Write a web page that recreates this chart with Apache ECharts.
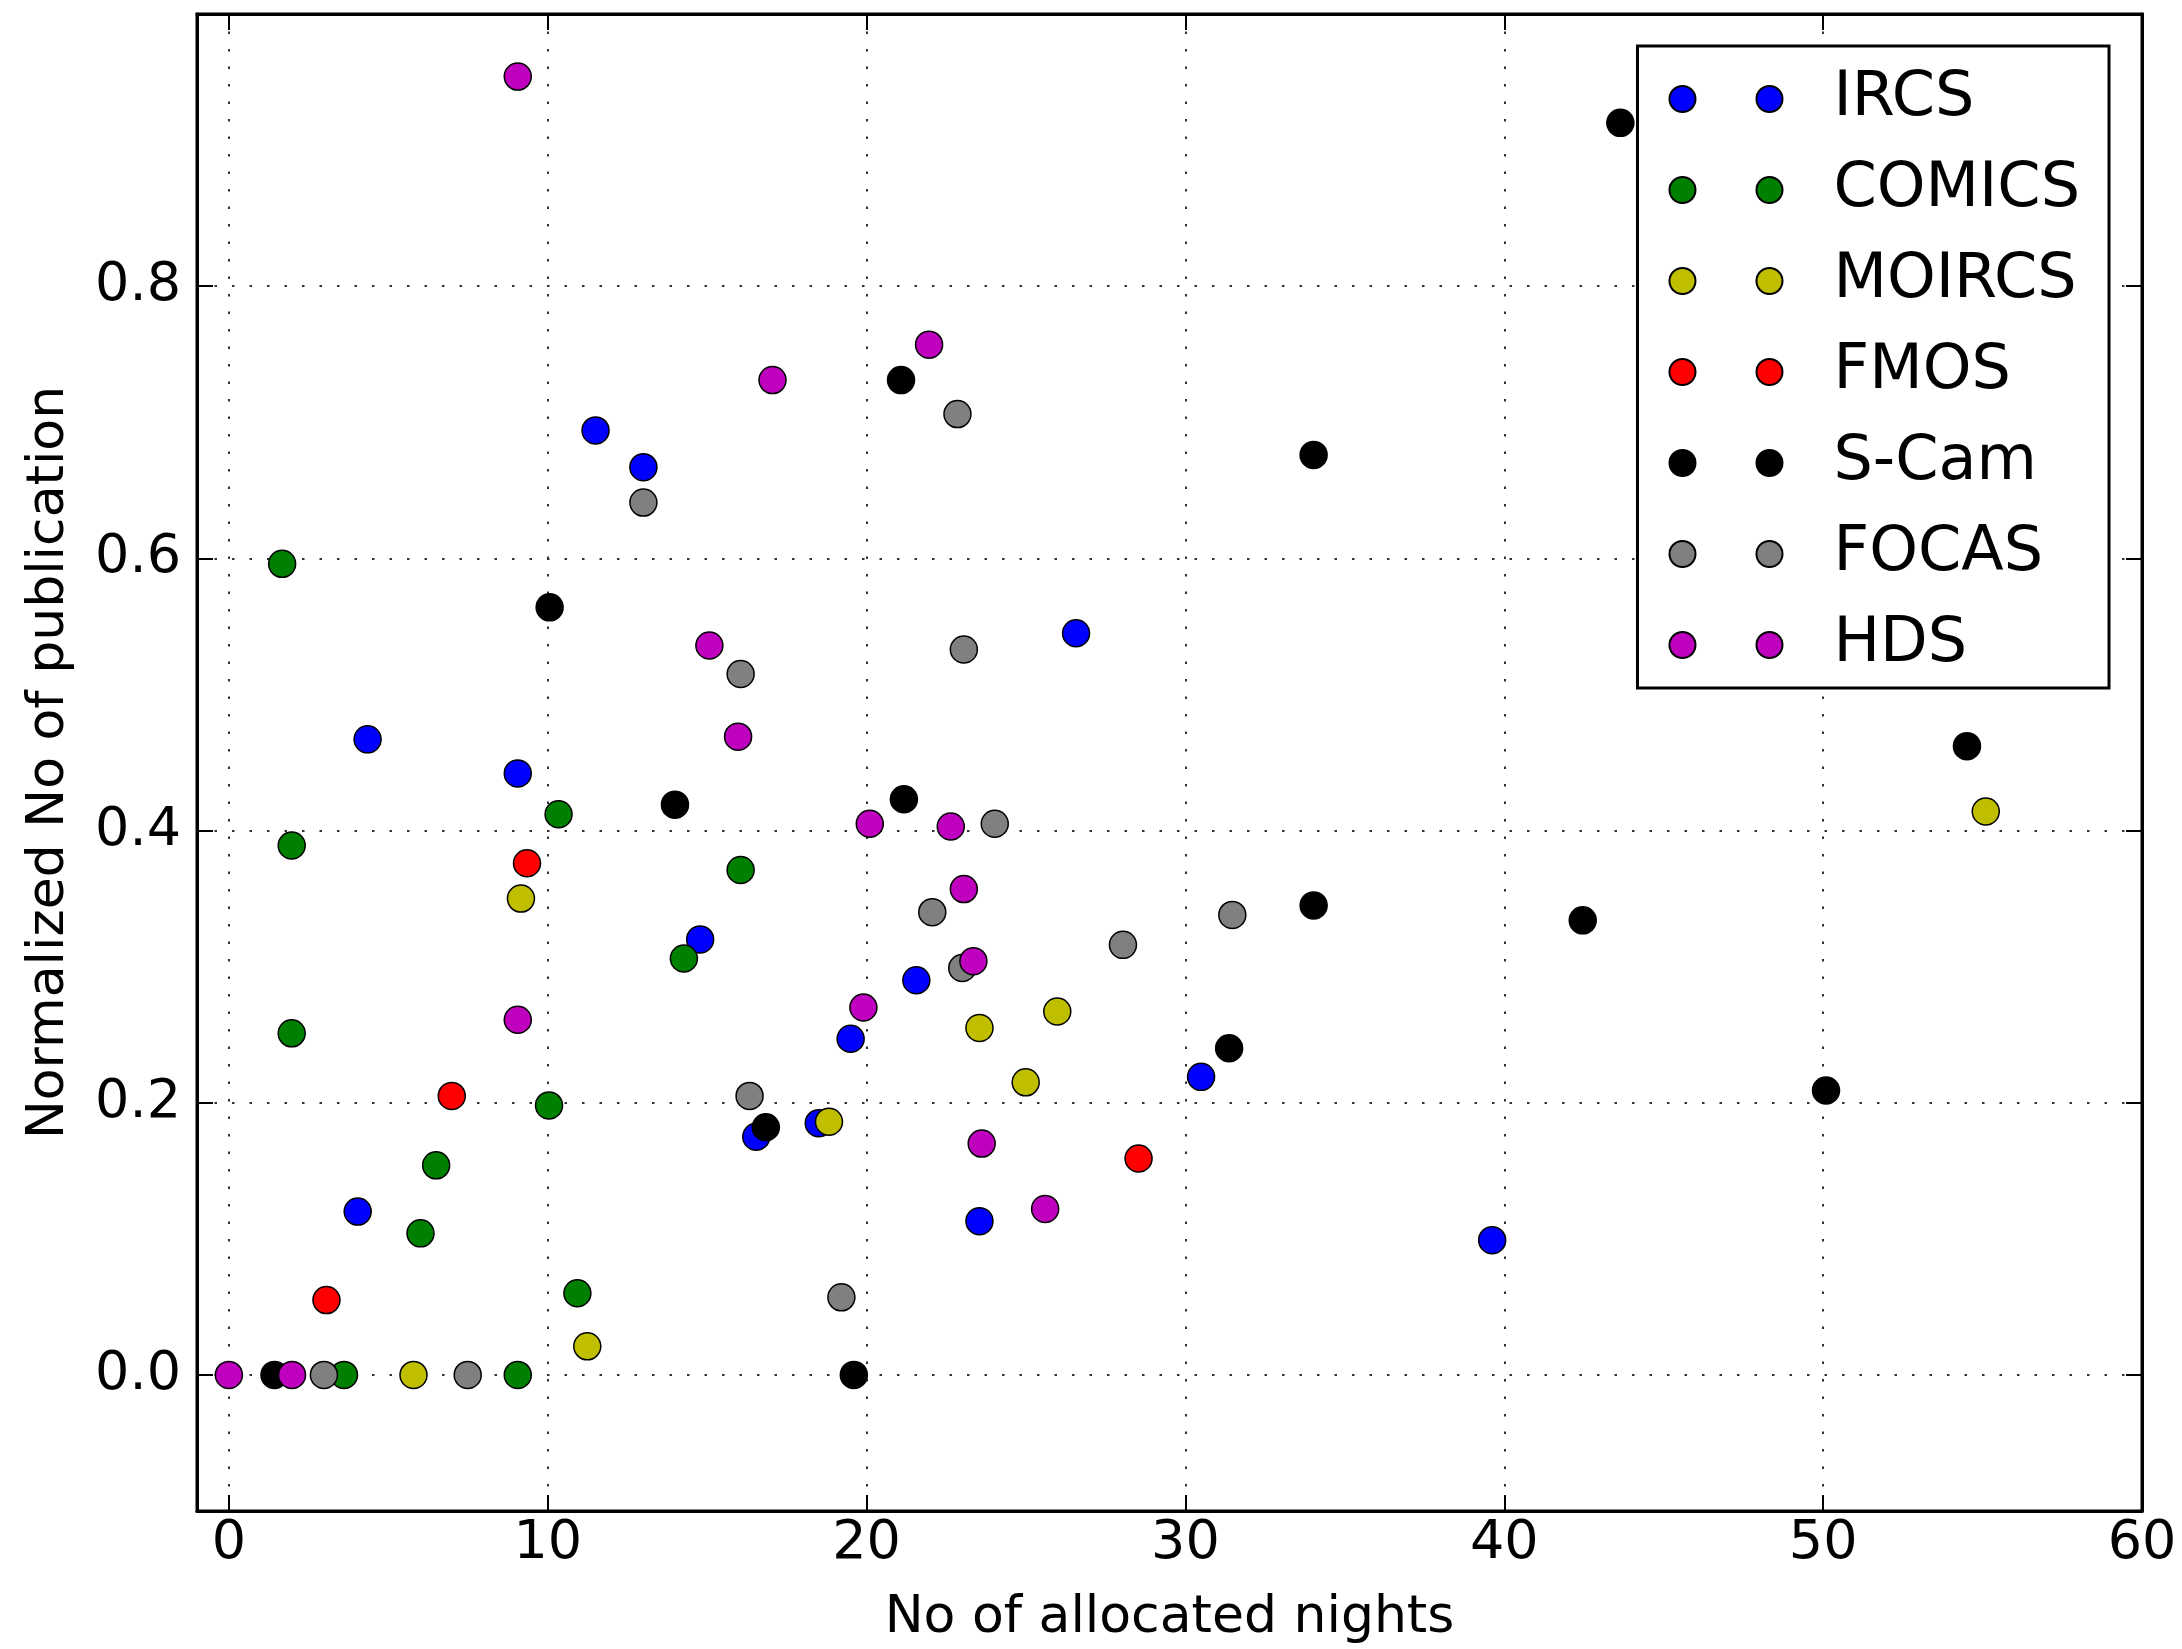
<!DOCTYPE html>
<html>
<head>
<meta charset="utf-8">
<script src="https://cdn.jsdelivr.net/npm/echarts@6/dist/echarts.min.js"></script>
<style>
html,body{margin:0;padding:0;background:#fff;}
#chart{width:2182px;height:1649px;}
</style>
</head>
<body>
<div id="chart"></div>
<script>
// ---- data: [nights, normalized publications] ----
const instruments = ['IRCS', 'COMICS', 'MOIRCS', 'FMOS', 'S-Cam', 'FOCAS', 'HDS'];
const colors = ['#0000ff', '#008000', '#bfbf00', '#ff0000', '#000000', '#808080', '#bf00bf'];

const ircs = [[11.5,0.694],[13.0,0.667],[4.35,0.467],[9.06,0.442],[26.57,0.545],[14.78,0.320],[19.5,0.247],[21.56,0.290],[30.49,0.219],[16.54,0.175],[18.5,0.185],[4.04,0.120],[23.54,0.113],[39.62,0.099]];
const comics = [[1.67,0.596],[10.34,0.412],[1.97,0.389],[16.05,0.371],[14.27,0.306],[1.97,0.251],[10.04,0.198],[6.5,0.154],[6.01,0.104],[10.93,0.060],[3.61,0],[9.06,0]];
const moircs = [[9.16,0.350],[55.1,0.414],[25.98,0.267],[23.54,0.255],[24.99,0.215],[18.82,0.186],[11.24,0.021],[5.79,0]];
const fmos = [[9.35,0.376],[6.99,0.205],[28.53,0.159],[3.06,0.055]];
const scam = [[43.64,0.920],[21.08,0.731],[34.02,0.676],[10.06,0.564],[54.51,0.462],[21.17,0.423],[13.99,0.419],[34.02,0.345],[42.46,0.334],[31.37,0.240],[50.09,0.209],[16.84,0.182],[1.43,0],[19.6,0]];
const focas = [[22.85,0.706],[13.0,0.641],[23.05,0.533],[16.05,0.515],[24.02,0.405],[22.06,0.340],[31.47,0.338],[28.04,0.316],[23.0,0.299],[16.33,0.205],[19.21,0.057],[2.98,0],[7.49,0]];
const hds = [[9.06,0.954],[21.96,0.757],[17.05,0.731],[15.07,0.536],[15.97,0.469],[20.1,0.405],[22.64,0.403],[23.05,0.357],[23.35,0.304],[19.9,0.270],[9.06,0.261],[23.61,0.170],[25.6,0.122],[0,0],[1.98,0]];

const seriesData = [ircs, comics, moircs, fmos, scam, focas, hds];

const xTitle = 'No of allocated nights';
const yTitle = 'Normalized No of publication';

// ---- chart ----
const FONT = 'DejaVu Sans';
const chart = echarts.init(document.getElementById('chart'), null, {renderer: 'canvas'});
const legendIcon = 'path://M0,13A13,13,0,1,0,26,13A13,13,0,1,0,0,13ZM87,13A13,13,0,1,0,113,13A13,13,0,1,0,87,13Z';

const gridLine = {show: true, lineStyle: {color: '#333', width: 2, type: [2.5, 15]}};
const tickIn = {show: true, inside: true, length: 16, lineStyle: {color: '#000', width: 2}};
const spine = {show: true, onZero: false, lineStyle: {color: '#000', width: 3}};

chart.setOption({
  backgroundColor: '#fff',
  animation: false,
  grid: {left: 197, right: 40, top: 14, bottom: 133, show: true, borderColor: '#000', borderWidth: 3, containLabel: false},
  legend: {
    data: instruments,
    orient: 'vertical',
    right: 73, top: 46,
    padding: [22, 29, 12, 31],
    itemGap: 29,
    itemWidth: 113, itemHeight: 26,
    icon: legendIcon,
    selectedMode: false,
    backgroundColor: '#fff',
    borderColor: '#000', borderWidth: 3, borderRadius: 0,
    textStyle: {fontFamily: FONT, fontSize: 62, lineHeight: 60, color: '#000', padding: [0, 0, 0, 46]}
  },
  xAxis: [{
    type: 'value', min: -1, max: 60, splitNumber: 6, position: 'bottom',
    name: xTitle, nameLocation: 'middle', nameGap: 81,
    nameTextStyle: {fontFamily: FONT, fontSize: 52, color: '#000'},
    axisLine: spine, axisTick: tickIn, splitLine: gridLine,
    axisLabel: {fontFamily: FONT, fontSize: 54, color: '#000', margin: 6,
      formatter: v => (v < 0 ? '' : String(Math.round(v)))}
  }, {
    type: 'value', min: -1, max: 60, splitNumber: 6, position: 'top',
    axisLine: spine, axisTick: tickIn, splitLine: {show: false}, axisLabel: {show: false}
  }],
  yAxis: [{
    type: 'value', min: -0.1, max: 1.0, splitNumber: 5, position: 'left',
    name: yTitle, nameLocation: 'middle', nameGap: 122,
    nameTextStyle: {fontFamily: FONT, fontSize: 52, color: '#000'},
    axisLine: spine, axisTick: tickIn, splitLine: gridLine,
    axisLabel: {fontFamily: FONT, fontSize: 54, color: '#000', margin: 16,
      formatter: v => (v < -1e-9 || v > 0.95 ? '' : v.toFixed(1))}
  }, {
    type: 'value', min: -0.1, max: 1.0, splitNumber: 5, position: 'right',
    axisLine: spine, axisTick: tickIn, splitLine: {show: false}, axisLabel: {show: false}
  }],
  series: instruments.map((name, i) => ({
    name: name,
    type: 'scatter',
    xAxisIndex: 0, yAxisIndex: 0,
    data: seriesData[i],
    symbol: 'circle',
    symbolSize: 27,
    itemStyle: {color: colors[i], borderColor: '#000', borderWidth: 1.5, opacity: 1},
    emphasis: {disabled: true}
  }))
});
</script>
</body>
</html>
